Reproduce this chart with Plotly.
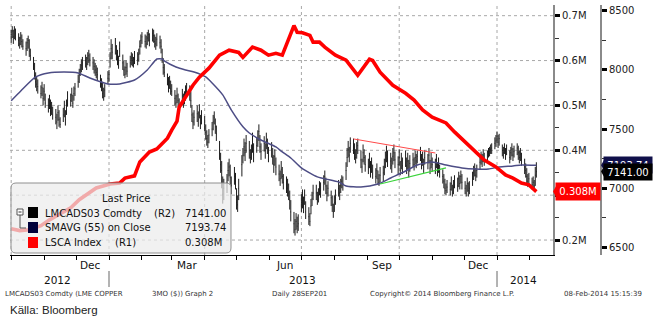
import pandas as pd
import plotly.graph_objects as go

# ---------------------------------------------------------------
# LME copper 3M (LMCADS03 Comdty), daily bars; one row per trading week
# ---------------------------------------------------------------
copper_close_weeks = [
    [8300, 8330, 8280, 8340, 8310], [8250, 8220, 8270, 8240, 8200], [8180, 8230, 8250, 8160, 8120],
    [8040, 7950, 7900, 7880, 7860], [7800, 7850, 7760, 7820, 7720], [7700, 7740, 7650, 7680, 7620],
    [7600, 7560, 7640, 7580, 7540], [7620, 7680, 7580, 7700, 7760], [7740, 7790, 7720, 7800, 7840],
    [7900, 7960, 8000, 8040, 8060], [8080, 8050, 8100, 8120, 8090], [8060, 8030, 8000, 7980, 7960],
    [7900, 7880, 7800, 7770, 7830], [7930, 7960, 8100, 8180, 8150], [8200, 8140, 8100, 8060, 8180],
    [8060, 8000, 7960, 8020, 7990], [8060, 8100, 8080, 8050, 8110], [8090, 8130, 8200, 8250, 8280],
    [8240, 8220, 8270, 8300, 8250], [8310, 8290, 8240, 8220, 8260], [8230, 8200, 8100, 8020, 7980],
    [7920, 7870, 7900, 7840, 7820], [7760, 7720, 7780, 7740, 7700], [7780, 7730, 7760, 7810, 7850],
    [7800, 7740, 7620, 7560, 7600], [7630, 7580, 7660, 7550, 7600], [7540, 7470, 7420, 7390, 7450],
    [7500, 7560, 7600, 7520, 7460], [7300, 7200, 7150, 6950, 7000], [7050, 7150, 7180, 7090, 7020],
    [7100, 7060, 6880, 6860, 7000], [7200, 7280, 7350, 7300, 7380], [7320, 7260, 7300, 7380, 7290],
    [7360, 7420, 7480, 7350, 7310], [7380, 7320, 7400, 7360, 7280], [7330, 7260, 7200, 7270, 7180],
    [7120, 7080, 7160, 7100, 7050], [7030, 7000, 6960, 6900, 6800], [6700, 6650, 6720, 6680, 6700],
    [6880, 6900, 6850, 6920, 6800], [6760, 6720, 6850, 6910, 6960], [6960, 6900, 6940, 7000, 6980],
    [7050, 7100, 7020, 6960, 7000], [6920, 6860, 6800, 6880, 6920], [7000, 6960, 7020, 7060, 7040],
    [7150, 7260, 7330, 7280, 7380], [7350, 7300, 7260, 7320, 7360], [7240, 7180, 7300, 7260, 7200],
    [7180, 7240, 7150, 7200, 7120], [7100, 7150, 7080, 7050, 7110], [7130, 7180, 7240, 7280, 7250],
    [7230, 7190, 7270, 7300, 7240], [7200, 7260, 7150, 7230, 7190], [7250, 7190, 7230, 7160, 7210],
    [7240, 7200, 7260, 7230, 7270], [7300, 7220, 7250, 7180, 7260], [7220, 7280, 7170, 7230, 7200],
    [7180, 7240, 7150, 7200, 7140], [7100, 7060, 7000, 6980, 7010], [6990, 7040, 6960, 7010, 7060],
    [7020, 7080, 7040, 7100, 7050], [7000, 6960, 7040, 6980, 7000], [7080, 7130, 7160, 7110, 7150],
    [7220, 7260, 7230, 7280, 7250], [7280, 7300, 7310, 7330, 7340], [7380, 7400, 7440, 7390, 7420],
    [7320, 7300, 7340, 7290, 7330], [7260, 7300, 7330, 7280, 7310], [7340, 7300, 7260, 7290, 7240],
    [7180, 7150, 7100, 7060, 7080], [7030, 7050, 7020, 7110, 7141],
]
copper_high_weeks = [
    [8340, 8370, 8340, 8370, 8350], [8310, 8280, 8320, 8300, 8260], [8240, 8270, 8290, 8260, 8180],
    [8110, 8060, 7980, 7940, 7920], [7870, 7900, 7850, 7880, 7800], [7760, 7790, 7750, 7730, 7690],
    [7670, 7630, 7700, 7660, 7600], [7680, 7740, 7660, 7750, 7820], [7800, 7850, 7790, 7860, 7890],
    [7960, 8010, 8050, 8090, 8110], [8130, 8110, 8150, 8170, 8140], [8110, 8090, 8060, 8040, 8020],
    [7960, 7930, 7900, 7850, 7880], [7990, 8000, 8150, 8260, 8220], [8270, 8210, 8170, 8120, 8240],
    [8130, 8080, 8030, 8080, 8060], [8120, 8150, 8140, 8110, 8160], [8150, 8180, 8250, 8300, 8320],
    [8300, 8290, 8320, 8340, 8310], [8350, 8340, 8300, 8280, 8310], [8290, 8260, 8180, 8100, 8050],
    [7970, 7940, 7950, 7910, 7880], [7830, 7790, 7850, 7800, 7760], [7840, 7800, 7820, 7870, 7890],
    [7870, 7820, 7700, 7640, 7660], [7700, 7650, 7710, 7620, 7660], [7610, 7540, 7490, 7450, 7500],
    [7560, 7620, 7650, 7590, 7530], [7400, 7300, 7230, 7100, 7080], [7120, 7220, 7250, 7200, 7100],
    [7180, 7130, 7000, 6940, 7080], [7280, 7340, 7420, 7390, 7450], [7400, 7330, 7370, 7470, 7380],
    [7430, 7490, 7540, 7450, 7380], [7440, 7380, 7470, 7420, 7350], [7390, 7340, 7280, 7330, 7260],
    [7200, 7150, 7230, 7180, 7120], [7100, 7080, 7040, 6980, 6900], [6800, 6740, 6790, 6760, 6780],
    [6950, 6990, 6930, 6990, 6890], [6840, 6790, 6910, 6970, 7030], [7030, 6970, 7000, 7060, 7050],
    [7110, 7150, 7090, 7030, 7060], [6980, 6940, 6870, 6940, 6990], [7070, 7030, 7080, 7110, 7100],
    [7220, 7340, 7400, 7350, 7430], [7420, 7380, 7330, 7390, 7420], [7320, 7250, 7370, 7330, 7280],
    [7250, 7300, 7230, 7260, 7200], [7170, 7210, 7150, 7120, 7180], [7190, 7250, 7310, 7360, 7320],
    [7300, 7260, 7340, 7370, 7310], [7270, 7330, 7230, 7300, 7260], [7320, 7260, 7300, 7240, 7280],
    [7300, 7260, 7320, 7290, 7320], [7350, 7290, 7310, 7250, 7320], [7290, 7340, 7240, 7300, 7260],
    [7250, 7290, 7220, 7260, 7200], [7160, 7120, 7080, 7040, 7070], [7050, 7100, 7030, 7070, 7110],
    [7090, 7140, 7110, 7150, 7120], [7060, 7030, 7090, 7050, 7060], [7140, 7190, 7210, 7170, 7200],
    [7280, 7310, 7290, 7330, 7300], [7320, 7340, 7350, 7370, 7380], [7430, 7450, 7480, 7450, 7460],
    [7370, 7350, 7380, 7340, 7370], [7320, 7350, 7380, 7340, 7360], [7380, 7360, 7320, 7340, 7300],
    [7250, 7210, 7170, 7120, 7130], [7090, 7100, 7070, 7180, 7220],
]
copper_low_weeks = [
    [8230, 8270, 8220, 8260, 8250], [8200, 8180, 8210, 8190, 8170], [8120, 8160, 8180, 8110, 8080],
    [8000, 7920, 7850, 7820, 7800], [7760, 7780, 7700, 7740, 7680], [7640, 7670, 7610, 7620, 7580],
    [7540, 7500, 7570, 7520, 7510], [7560, 7600, 7530, 7620, 7690], [7690, 7730, 7680, 7740, 7780],
    [7850, 7890, 7950, 7980, 8000], [8020, 8000, 8040, 8060, 8030], [8000, 7970, 7950, 7930, 7910],
    [7850, 7820, 7760, 7740, 7770], [7880, 7900, 8020, 8090, 8090], [8130, 8080, 8040, 8010, 8110],
    [8000, 7950, 7930, 7960, 7940], [8020, 8040, 8030, 8020, 8050], [8040, 8070, 8130, 8190, 8220],
    [8190, 8180, 8210, 8240, 8200], [8240, 8230, 8190, 8170, 8200], [8180, 8140, 8060, 7960, 7940],
    [7870, 7810, 7840, 7790, 7780], [7700, 7680, 7720, 7690, 7650], [7700, 7680, 7710, 7740, 7780],
    [7740, 7680, 7560, 7500, 7530], [7560, 7520, 7590, 7500, 7540], [7480, 7410, 7360, 7340, 7380],
    [7440, 7490, 7540, 7460, 7400], [7240, 7130, 7000, 6870, 6900], [6960, 7060, 7100, 7030, 6950],
    [7030, 6990, 6820, 6800, 6900], [7100, 7210, 7270, 7230, 7300], [7250, 7210, 7240, 7300, 7220],
    [7300, 7350, 7400, 7300, 7240], [7310, 7250, 7330, 7290, 7220], [7260, 7200, 7130, 7190, 7110],
    [7060, 7020, 7080, 7040, 6990], [6960, 6930, 6900, 6820, 6720], [6620, 6600, 6650, 6620, 6640],
    [6800, 6830, 6790, 6860, 6740], [6690, 6680, 6780, 6850, 6900], [6900, 6860, 6880, 6940, 6920],
    [6980, 7030, 6950, 6890, 6930], [6850, 6800, 6750, 6800, 6860], [6930, 6900, 6960, 7000, 6980],
    [7070, 7180, 7260, 7220, 7300], [7290, 7240, 7210, 7250, 7290], [7170, 7130, 7220, 7200, 7140],
    [7120, 7170, 7090, 7130, 7080], [7040, 7080, 7030, 7020, 7050], [7060, 7110, 7170, 7220, 7180],
    [7160, 7130, 7200, 7230, 7170], [7120, 7190, 7110, 7160, 7120], [7180, 7120, 7160, 7090, 7140],
    [7180, 7150, 7200, 7170, 7210], [7230, 7160, 7190, 7130, 7200], [7160, 7210, 7120, 7170, 7140],
    [7120, 7170, 7100, 7130, 7090], [7040, 7000, 6950, 6940, 6960], [6940, 6980, 6930, 6950, 7000],
    [6970, 7010, 6990, 7040, 6990], [6950, 6930, 6970, 6930, 6950], [7020, 7070, 7100, 7060, 7090],
    [7160, 7200, 7180, 7220, 7190], [7230, 7260, 7270, 7290, 7290], [7330, 7350, 7380, 7340, 7360],
    [7270, 7250, 7290, 7240, 7280], [7210, 7240, 7270, 7230, 7260], [7280, 7240, 7210, 7230, 7190],
    [7120, 7090, 7040, 7010, 7020], [6990, 7000, 6980, 7020, 7090],
]
trade_days = pd.bdate_range("2012-10-01", "2014-02-07")

# SMAVG (55) on close
sma_dates = [
    "2012-10-01", "2012-10-10", "2012-10-24", "2012-11-05", "2012-11-20", "2012-12-03",
    "2012-12-14", "2012-12-31", "2013-01-11", "2013-01-25", "2013-02-06", "2013-02-15",
    "2013-02-20", "2013-02-22", "2013-03-05", "2013-03-14", "2013-03-22", "2013-04-02",
    "2013-04-08", "2013-04-18", "2013-04-26", "2013-05-07", "2013-05-13", "2013-05-24",
    "2013-06-07", "2013-06-13", "2013-06-21", "2013-07-01", "2013-07-16", "2013-08-05",
    "2013-08-12", "2013-08-26", "2013-09-11", "2013-09-23", "2013-10-07", "2013-10-18",
    "2013-11-01", "2013-11-14", "2013-11-29", "2013-12-12", "2013-12-24", "2014-01-03",
    "2014-01-16", "2014-01-24", "2014-02-07",
]
sma_values = [
    7740, 7822, 7941, 7975, 7983, 7975,
    7932, 7882, 7882, 7915, 8000, 8093,
    8093, 8076, 8025, 8000, 7983, 7941,
    7890, 7789, 7662, 7519, 7467, 7408,
    7349, 7307, 7256, 7172, 7096, 7053,
    7019, 7011, 7036, 7087, 7146, 7197,
    7222, 7197, 7172, 7163, 7163, 7180,
    7189, 7197, 7193.74,
]

# LME copper warehouse stocks (LSCA Index), tonnes
lsca_dates = [
    "2012-10-01", "2012-10-09", "2012-10-18", "2012-10-29", "2012-11-06", "2012-11-15",
    "2012-11-26", "2012-12-04", "2012-12-14", "2012-12-20", "2013-01-02", "2013-01-11",
    "2013-01-16", "2013-01-25", "2013-01-30", "2013-02-08", "2013-02-15", "2013-02-25",
    "2013-03-01", "2013-03-06", "2013-03-08", "2013-03-14", "2013-03-21", "2013-03-27",
    "2013-04-05", "2013-04-15", "2013-04-24", "2013-05-03", "2013-05-07", "2013-05-16",
    "2013-05-24", "2013-05-31", "2013-06-07", "2013-06-13", "2013-06-18", "2013-06-24",
    "2013-06-27", "2013-07-02", "2013-07-09", "2013-07-12", "2013-07-18", "2013-07-23",
    "2013-08-02", "2013-08-12", "2013-08-23", "2013-09-03", "2013-09-06", "2013-09-13",
    "2013-09-25", "2013-10-07", "2013-10-15", "2013-10-23", "2013-11-01", "2013-11-08",
    "2013-11-14", "2013-11-22", "2013-12-02", "2013-12-12", "2013-12-20", "2013-12-31",
    "2014-01-09", "2014-01-16", "2014-01-24", "2014-01-31", "2014-02-06", "2014-02-07",
]
lsca_values = [
    225000, 221000, 223000, 232000, 245000, 258000,
    272000, 290000, 305000, 316000, 325000, 327000,
    338000, 343000, 374000, 396000, 403000, 427000,
    445000, 465000, 496000, 518000, 545000, 563000,
    583000, 612000, 623000, 618000, 607000, 630000,
    623000, 612000, 616000, 612000, 641000, 678000,
    663000, 662000, 656000, 641000, 641000, 630000,
    612000, 601000, 567000, 603000, 600000, 574000,
    545000, 527000, 512000, 490000, 474000, 467000,
    461000, 441000, 418000, 396000, 378000, 363000,
    345000, 338000, 327000, 323000, 312000, 308000,
]

# hand-drawn trend lines on the price
resistance_dates = ["2013-08-19", "2013-11-04"]
resistance_values = [7417, 7298]
support_dates = ["2013-09-13", "2013-11-14"]
support_values = [7036, 7172]

# axis ticks
stock_ticks = [200000, 300000, 400000, 500000, 600000, 700000]
stock_minor = [250000, 350000, 450000, 550000, 650000]
price_ticks = [6500, 7000, 7500, 8000, 8500]
price_minor = [6750, 7250, 7750, 8250]
quarter_starts = ["2012-10-01", "2013-01-01", "2013-04-01", "2013-07-01", "2013-10-01", "2014-01-01"]
month_labels = [("2012-12-15", "Dec"), ("2013-03-15", "Mar"), ("2013-06-15", "Jun"),
                ("2013-09-15", "Sep"), ("2013-12-15", "Dec")]
year_labels = [("2012-11-14", "2012"), ("2013-07-02", "2013"), ("2014-01-26", "2014")]
year_breaks = ["2013-01-01", "2014-01-01"]

copper_close = [v for wk in copper_close_weeks for v in wk]
copper_high = [v for wk in copper_high_weeks for v in wk]
copper_low = [v for wk in copper_low_weeks for v in wk]

last_price = copper_close[-1]
last_sma = sma_values[-1]
last_stock = lsca_values[-1]

# ---------------------------------------------------------------
# geometry helpers (pixel -> paper)
# ---------------------------------------------------------------
W, H = 655, 332
ML, MR, MT, MB = 10, 54, 5, 77
PW, PH = W - ML - MR, H - MT - MB


def px(x):
    return (x - ML) / PW


def py(y):
    return (H - MB - y) / PH


XDOM = px(553)
FONT = "DejaVu Sans"
BAR = "#1c1c1c"
NAVY_LINE = "#4d4d85"

fig = go.Figure()

fig.add_trace(go.Ohlc(
    x=trade_days, open=copper_close, high=copper_high, low=copper_low, close=copper_close,
    increasing=dict(line=dict(color=BAR, width=1)),
    decreasing=dict(line=dict(color=BAR, width=1)),
    tickwidth=0.3, yaxis="y", hoverinfo="skip", showlegend=False,
))
fig.add_trace(go.Scatter(
    x=sma_dates, y=sma_values, mode="lines", yaxis="y",
    line=dict(color=NAVY_LINE, width=1.5, shape="spline", smoothing=0.6),
    hoverinfo="skip", showlegend=False,
))
fig.add_trace(go.Scatter(
    x=resistance_dates, y=resistance_values, mode="lines", yaxis="y",
    line=dict(color="#ff4a4a", width=1), hoverinfo="skip", showlegend=False,
))
fig.add_trace(go.Scatter(
    x=support_dates, y=support_values, mode="lines", yaxis="y",
    line=dict(color="#3ad43a", width=1.2), hoverinfo="skip", showlegend=False,
))
fig.add_trace(go.Scatter(
    x=lsca_dates, y=lsca_values, mode="lines", yaxis="y2",
    line=dict(color="#ff0000", width=3.6), hoverinfo="skip", showlegend=False,
))

shapes = []
grid = dict(color="#a8a8a8", width=1, dash="dot")
for v in stock_ticks:
    shapes.append(dict(type="line", xref="paper", x0=0, x1=XDOM, yref="y2", y0=v, y1=v,
                       line=grid, layer="below"))
for d in quarter_starts:
    shapes.append(dict(type="line", xref="x", x0=d, x1=d, yref="paper", y0=0, y1=1,
                       line=grid, layer="below"))
for d in year_breaks:
    shapes.append(dict(type="line", xref="x", x0=d, x1=d, yref="paper", y0=py(271), y1=py(287),
                       line=dict(color="#9a9a9a", width=1.5)))


def rounded_rect(x0, y0, x1, y1, r):
    p = lambda x, y: f"{px(x):.5f},{py(y):.5f}"
    return (f"M {p(x0 + r, y0)} L {p(x1 - r, y0)} Q {p(x1, y0)} {p(x1, y0 + r)} "
            f"L {p(x1, y1 - r)} Q {p(x1, y1)} {p(x1 - r, y1)} L {p(x0 + r, y1)} "
            f"Q {p(x0, y1)} {p(x0, y1 - r)} L {p(x0, y0 + r)} Q {p(x0, y0)} {p(x0 + r, y0)} Z")


# legend panel
shapes.append(dict(type="path", xref="paper", yref="paper", path=rounded_rect(11, 183, 231, 253, 5),
                   fillcolor="rgba(236,236,236,0.72)", line=dict(color="#8f8f8f", width=1), layer="above"))
# tree glyph
shapes.append(dict(type="rect", xref="paper", yref="paper", x0=px(17), x1=px(23), y0=py(215), y1=py(209),
                   line=dict(color="#555", width=1), fillcolor="white", layer="above"))
shapes.append(dict(type="line", xref="paper", yref="paper", x0=px(18.5), x1=px(21.5), y0=py(212), y1=py(212),
                   line=dict(color="#333", width=1), layer="above"))
shapes.append(dict(type="line", xref="paper", yref="paper", x0=px(20), x1=px(20), y0=py(215), y1=py(228),
                   line=dict(color="#555", width=1), layer="above"))
shapes.append(dict(type="line", xref="paper", yref="paper", x0=px(20), x1=px(26), y0=py(228), y1=py(228),
                   line=dict(color="#555", width=1), layer="above"))
for (y0, y1, col) in [(207, 218, "#000000"), (222, 233, "#00003a"), (237, 248, "#ff0000")]:
    shapes.append(dict(type="rect", xref="paper", yref="paper", x0=px(28), x1=px(38), y0=py(y1), y1=py(y0),
                       fillcolor=col, line=dict(width=0), layer="above"))

# pointers on the value tags
for anchor_x, yref, val, col in [(553, "y2", last_stock, "#ff0000"),
                                 (601, "y", last_sma, "#10104a"),
                                 (601, "y", last_price, "#000000")]:
    shapes.append(dict(type="path", xref="paper", xsizemode="pixel", xanchor=px(anchor_x),
                       yref=yref, ysizemode="pixel", yanchor=val,
                       path="M 0 0 L 4 7 L 4 -7 Z", fillcolor=col, line=dict(width=0), layer="above"))

ann = []


def txt(x, y, s, size=10, color="#111", anchor="left", family=FONT):
    ann.append(dict(xref="paper", yref="paper", x=px(x), y=py(y), text=s, showarrow=False,
                    xanchor=anchor, yanchor="middle", font=dict(family=family, size=size, color=color)))


# legend text
txt(126, 198, "Last Price", anchor="center")
txt(43, 213, "LMCADS03 Comdty")
txt(152, 213, "(R2)")
txt(183, 213, f"{last_price:.2f}")
txt(43, 227.5, "SMAVG (55) on Close")
txt(183, 227.5, f"{last_sma:.2f}")
txt(43, 242, "LSCA Index")
txt(113, 242, "(R1)")
txt(183, 242, f"{last_stock / 1e6:.3f}M")

# month / year labels
for d, s in month_labels:
    ann.append(dict(xref="x", yref="paper", x=d, y=py(265), text=s, showarrow=False,
                    xanchor="center", yanchor="middle", font=dict(family=FONT, size=10.5, color="#111")))
for d, s in year_labels:
    ann.append(dict(xref="x", yref="paper", x=d, y=py(280), text=s, showarrow=False,
                    xanchor="center", yanchor="middle", font=dict(family=FONT, size=10.5, color="#111")))

# footer lines
foot = "#333"
txt(3, 294, "LMCADS03 Comdty (LME COPPER", size=7, color=foot)
txt(150, 294, "3MO ($)) Graph 2", size=7, color=foot)
txt(270, 294, "Daily 28SEP201", size=7, color=foot)
txt(368, 294, "Copyright\u00a9 2014 Bloomberg Finance L.P.", size=7, color=foot)
txt(562, 294, "08-Feb-2014 15:15:39", size=7, color=foot)
txt(8, 310, "K\u00e4lla: Bloomberg", size=11.5, color="#222", family="Liberation Sans")

# value tags on the right axes
ann.append(dict(xref="paper", yref="y2", x=px(578), y=last_stock, text=f"{last_stock / 1e6:.3f}M",
                showarrow=False, xanchor="center", yanchor="middle", bgcolor="#ff0000",
                width=40, height=13, borderpad=2, font=dict(family=FONT, size=10, color="white")))
ann.append(dict(xref="paper", yref="y", x=px(628), y=last_sma, text=f"{last_sma:.2f}",
                showarrow=False, xanchor="center", yanchor="middle", bgcolor="#10104a",
                width=44, height=12, borderpad=2, font=dict(family=FONT, size=10, color="white")))
ann.append(dict(xref="paper", yref="y", x=px(628), y=last_price, text=f"{last_price:.2f}",
                showarrow=False, xanchor="center", yanchor="middle", bgcolor="#000000",
                width=44, height=12, borderpad=2, font=dict(family=FONT, size=10, color="white")))

# the 0.3M label sits under the stock tag, so only its tick mark is kept
stock_text = ["" if v == 300000 else f"{v / 1e6:.1f}M" for v in stock_ticks]

fig.update_layout(
    width=W, height=H,
    margin=dict(l=ML, r=MR, t=MT, b=MB, pad=0),
    paper_bgcolor="white", plot_bgcolor="white", showlegend=False,
    font=dict(family=FONT, size=10, color="#222"),
    xaxis=dict(
        domain=[0, XDOM], type="date",
        range=["2012-09-29 21:00:00", "2014-02-22 16:00:00"],
        rangeslider=dict(visible=False), showgrid=False, zeroline=False,
        showline=True, linecolor="black", linewidth=1,
        ticks="outside", ticklen=4, tickcolor="black", tickwidth=1,
        dtick="M3", tick0="2012-10-01", showticklabels=False,
        minor=dict(dtick="M1", tick0="2012-10-01", ticks="outside", ticklen=4,
                   tickcolor="black", tickwidth=1, showgrid=False),
    ),
    yaxis=dict(
        anchor="free", position=1, side="right", range=[6436, 8549],
        tickvals=price_ticks, ticktext=[str(v) for v in price_ticks],
        showgrid=False, zeroline=False, showline=True, linecolor="#8a8a8a", linewidth=2,
        ticks="outside", ticklen=5, tickwidth=3, tickcolor="black",
        minor=dict(tickvals=price_minor, ticks="outside", ticklen=4, tickwidth=1, tickcolor="#333"),
        tickfont=dict(family=FONT, size=10, color="#222"),
    ),
    yaxis2=dict(
        anchor="x", overlaying="y", side="right", range=[166667, 723800],
        tickvals=stock_ticks, ticktext=stock_text,
        showgrid=False, zeroline=False, showline=True, linecolor="#8a8a8a", linewidth=2,
        ticks="outside", ticklen=5, tickwidth=3, tickcolor="black",
        minor=dict(tickvals=stock_minor, ticks="outside", ticklen=4, tickwidth=1, tickcolor="#333"),
        tickfont=dict(family=FONT, size=10, color="#222"),
    ),
    shapes=shapes,
    annotations=ann,
)

fig.write_html("out.html")
